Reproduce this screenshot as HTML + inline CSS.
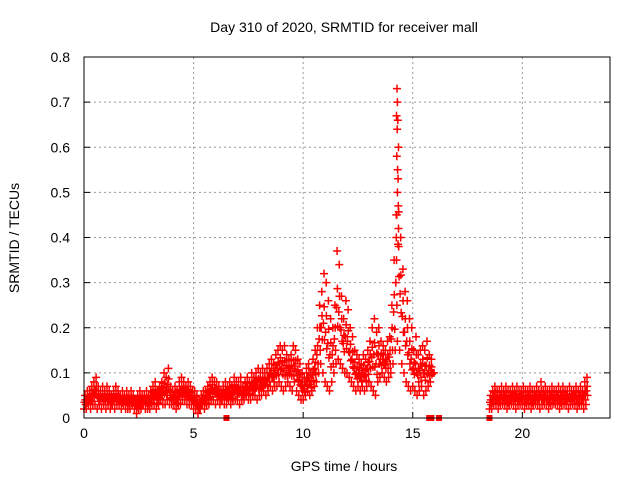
<!DOCTYPE html>
<html><head><meta charset="utf-8"><style>
body{margin:0;background:#fff;}
svg{font-family:"Liberation Sans",sans-serif;}
</style></head><body>
<svg id="chart" width="640" height="480" viewBox="0 0 640 480" xmlns="http://www.w3.org/2000/svg">
<rect width="640" height="480" fill="#fff"/>
<text x="344" y="32" font-size="14" text-anchor="middle">Day 310 of 2020, SRMTID for receiver mall</text>
<text transform="translate(19,238) rotate(-90)" font-size="14" text-anchor="middle">SRMTID / TECUs</text>
<text x="344" y="471" font-size="14" text-anchor="middle">GPS time / hours</text>
<g id="grid"></g>
<g id="ticks"></g>
<g id="points"></g>
<rect x="84" y="57" width="526" height="361" fill="none" stroke="#000" stroke-width="1"/>
</svg>
<script>
const xTicks=[0,5,10,15,20];
const yTicks=[0,0.1,0.2,0.3,0.4,0.5,0.6,0.7,0.8];
const yTickLabels=["0","0.1","0.2","0.3","0.4","0.5","0.6","0.7","0.8"];
const startA=0.0;
const lowA=[.02,.02,.03,.02,.03,.03,.02,.03,.02,.03,.02,.03,.02,.03,.02,.03,.03,.02,.03,.02,.02,.02,.03,.02,.01,.02,.02,.03,.02,.02,.02,.03,.03,.02,.03,.04,.03,.03,.04,.03,.03,.03,.02,.03,.03,.04,.04,.03,.03,.03,.02,.02,.01,.02,.03,.02,.03,.03,.04,.04,.03,.04,.03,.04,.03,.03,.04,.03,.04,.04,.04,.03,.04,.04,.05,.04,.04,.05,.05,.04,.05,.05,.06,.05,.06,.07,.06,.07,.07,.08,.07,.06,.07,.08,.07,.06,.08,.06,.05,.04,.04,.05,.06,.05,.06,.07,.08,.10,.12,.10,.08,.07,.06,.08,.10,.12,.13,.12,.11,.10,.10,.09,.08,.07,.06,.07,.06,.07,.06,.07,.08,.07,.06,.05,.08,.09,.10,.09,.08,.09,.10,.12,.15,.17,.15,.12,.10,.08,.07,.06,.07,.06,.05,.06,.07,.05,.06,.07,.08,.10];
const highA=[.05,.06,.06,.07,.08,.09,.07,.06,.07,.06,.07,.06,.05,.06,.07,.06,.05,.06,.05,.06,.05,.06,.05,.04,.05,.06,.05,.05,.06,.05,.06,.07,.08,.06,.07,.08,.10,.09,.11,.07,.06,.07,.06,.08,.09,.08,.07,.08,.07,.06,.06,.05,.04,.05,.06,.06,.07,.08,.09,.08,.08,.07,.06,.07,.08,.07,.08,.07,.09,.08,.08,.09,.07,.08,.09,.08,.10,.09,.10,.11,.10,.11,.10,.11,.12,.13,.12,.14,.15,.16,.15,.16,.14,.13,.14,.16,.15,.13,.12,.10,.09,.11,.12,.10,.13,.15,.20,.25,.28,.32,.30,.26,.22,.20,.25,.37,.34,.27,.22,.26,.24,.20,.18,.15,.14,.13,.12,.14,.13,.15,.17,.20,.22,.19,.20,.17,.16,.15,.17,.18,.25,.35,.45,.60,.40,.33,.28,.26,.22,.20,.15,.18,.14,.15,.16,.15,.17,.14,.13,.10];
const startB=18.5;
const lowB=[.02,.02,.03,.03,.02,.03,.03,.03,.02,.03,.03,.03,.02,.03,.03,.03,.02,.03,.03,.02,.03,.03,.03,.02,.03,.03,.03,.02,.03,.03,.03,.03,.02,.03,.03,.03,.02,.03,.03,.03,.02,.03,.03,.02,.03];
const highB=[.05,.06,.07,.06,.06,.07,.06,.07,.06,.06,.07,.06,.07,.06,.06,.07,.06,.06,.07,.06,.06,.07,.06,.08,.06,.07,.06,.06,.07,.06,.06,.07,.06,.07,.06,.06,.07,.06,.06,.07,.06,.07,.06,.08,.09];
const spikeTimes=[14.28,14.30,14.26,14.32,14.29,14.27,14.31,14.33,14.30,14.34,14.27,14.35,14.25,14.36];
const spikeVals=[.73,.70,.67,.66,.64,.58,.55,.53,.50,.47,.45,.42,.40,.38];
const zeroTimes=[6.5,15.75,15.85,16.2,18.5];

const X0=84,X1=610,Y0=418,Y1=57;
const xs=t=>X0+t*(X1-X0)/24;
const ys=v=>Y0-v*(Y0-Y1)/0.8;
const NS="http://www.w3.org/2000/svg";
function mk(tag,attrs,parent){const e=document.createElementNS(NS,tag);for(const k in attrs)e.setAttribute(k,attrs[k]);parent.appendChild(e);return e;}
const grid=document.getElementById('grid'),ticks=document.getElementById('ticks'),pts=document.getElementById('points');
xTicks.forEach(t=>{
  const x=xs(t);
  if(t>0){const g=mk('line',{x1:x,x2:x,y1:Y1,y2:Y0,stroke:'#999','stroke-dasharray':'2,3'},grid);
  
  }
  mk('line',{x1:x,x2:x,y1:Y0,y2:Y0-6,stroke:'#000'},ticks);
  const l=mk('text',{x:x,y:Y0+20,'font-size':14,'text-anchor':'middle'},ticks);l.textContent=t;
  
  
});
yTicks.forEach((v,i)=>{
  const y=ys(v);
  if(v>0&&v<0.8){const g=mk('line',{x1:X0,x2:X1,y1:y,y2:y,stroke:'#999','stroke-dasharray':'2,3'},grid);
  
  }
  mk('line',{x1:X0,x2:X0+6,y1:y,y2:y,stroke:'#000'},ticks);
  mk('line',{x1:X1,x2:X1-6,y1:y,y2:y,stroke:'#000'},ticks);
  const l=mk('text',{x:70,y:y+5,'font-size':14,'text-anchor':'end'},ticks);l.textContent=yTickLabels[i];
  
  
});
let d='';
function plus(t,v){const x=xs(t),y=ys(v);d+=`M${(x-4).toFixed(1)} ${y.toFixed(1)}h8M${x.toFixed(1)} ${(y-4).toFixed(1)}v8`;}
function series(start,lo,hi){
  lo.forEach((l,i)=>{const t=start+i*0.1,h=hi[i];
    plus(t,l);plus(t+0.05,h);plus(t+0.025,(l+h)/2);plus(t+0.075,(2*l+h)/3);plus(t+0.06,(l+2*h)/3);});
}
series(startA,lowA,highA);series(startB,lowB,highB);
spikeTimes.forEach((t,i)=>plus(t,spikeVals[i]));
const p=mk('path',{d:d,stroke:'#ff0000','stroke-width':1.5,fill:'none'},pts);


zeroTimes.forEach(t=>{const r=mk('rect',{x:xs(t)-3,y:Y0-3,width:6,height:6,fill:'#ff0000'},pts);
  
  });
</script>
</body></html>
